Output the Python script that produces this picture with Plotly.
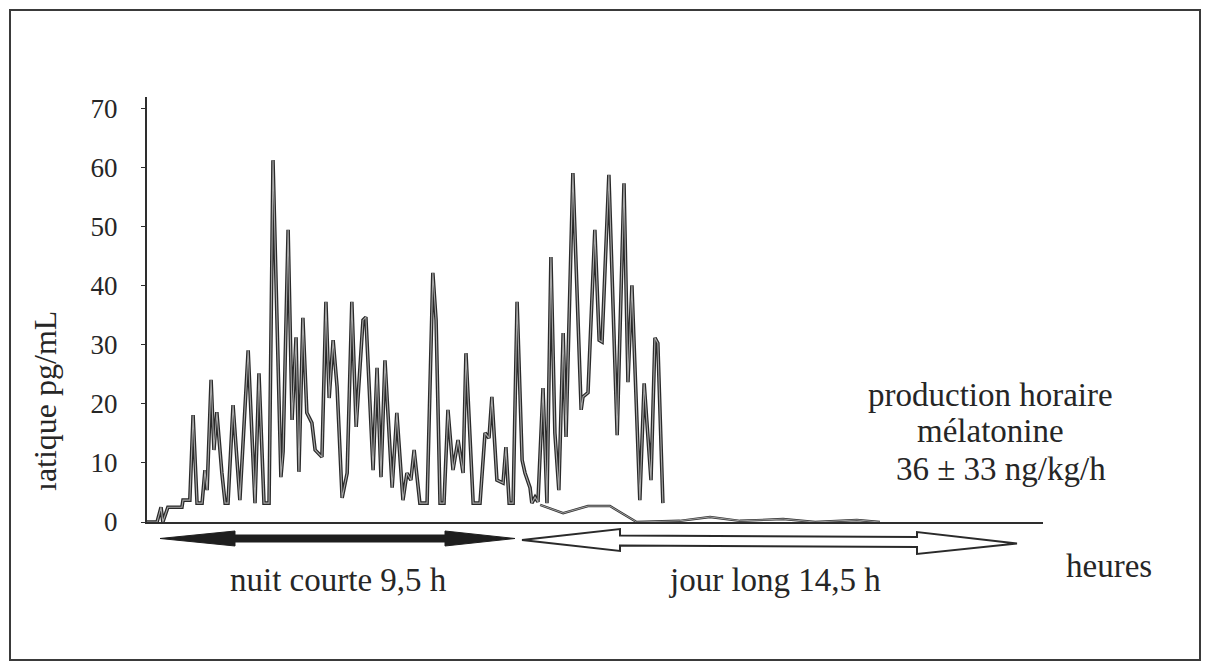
import plotly.graph_objects as go

# ---------------- data ----------------
# time in hours from the start of the recording
hours = [0.0, 0.28, 0.39, 0.44, 0.58, 0.97, 1.0, 1.19, 1.28, 1.39, 1.53, 1.61, 1.67,
         1.78, 1.86, 1.94, 2.08, 2.17, 2.25, 2.39, 2.58, 2.81, 3.0, 3.11, 3.25, 3.39,
         3.5, 3.61, 3.72, 3.78, 3.92, 4.03, 4.14, 4.22, 4.33, 4.44, 4.58, 4.67, 4.86,
         4.97, 5.06, 5.17, 5.28, 5.42, 5.56, 5.69, 5.81, 6.0, 6.08, 6.28, 6.39, 6.5,
         6.61, 6.81, 6.94, 7.11, 7.22, 7.33, 7.42, 7.58, 7.78, 7.94, 8.03, 8.14, 8.25,
         8.36, 8.5, 8.64, 8.78, 8.86, 8.97, 9.06, 9.25, 9.39, 9.5, 9.58, 9.72, 9.89,
         9.97, 10.06, 10.17, 10.28, 10.42, 10.5, 10.64, 10.69, 10.78, 10.86, 11.0,
         11.11, 11.22, 11.33, 11.44, 11.56, 11.64, 11.83, 12.06, 12.11, 12.25, 12.44,
         12.56, 12.64, 12.83, 13.06, 13.25, 13.36, 13.47, 13.69, 13.81, 14.0, 14.11,
         14.19, 14.33]
# plasma melatonin, pg/mL
conc = [0.0, 0.0, 2.5, 0.0, 2.5, 2.5, 3.7, 3.7, 18.1, 3.2, 3.2, 8.8, 5.4,
        24.1, 12.2, 18.6, 8.3, 3.2, 3.2, 19.8, 3.7, 29.1, 3.2, 25.2, 3.2, 3.2,
        61.3, 36.4, 7.6, 11.9, 49.5, 17.3, 31.3, 8.5, 34.6, 18.5, 16.8, 12.2, 11.0,
        37.3, 21.0, 30.8, 22.9, 4.1, 8.3, 37.3, 16.1, 34.2, 34.7, 8.8, 26.1, 7.6,
        27.4, 5.8, 18.5, 3.7, 8.3, 7.1, 12.2, 3.2, 3.2, 42.2, 34.2, 3.2, 3.2,
        19.0, 8.8, 13.9, 8.3, 28.6, 13.9, 3.2, 3.2, 15.1, 14.2, 21.2, 7.1, 6.6,
        12.7, 3.2, 3.2, 37.3, 10.5, 8.3, 5.8, 3.2, 4.2, 3.4, 22.7,
        3.2, 44.9, 15.1, 5.4, 32.0, 14.4, 59.1, 19.0, 21.2, 21.9, 49.5,
        30.8, 30.5, 58.8, 14.7, 57.4, 23.7, 40.1, 3.7, 23.5, 7.1, 31.2,
        30.3, 3.2]

# hourly production curve (drawn near the baseline)
prod_hours = [10.92, 11.56, 12.25, 12.86, 13.6, 14.8, 15.64, 16.47, 17.67, 18.56, 19.72, 20.36]
prod_vals = [2.9, 1.5, 2.7, 2.7, 0.0, 0.2, 0.85, 0.2, 0.5, 0.0, 0.35, 0.0]

ytick_vals = [0, 10, 20, 30, 40, 50, 60, 70]
ytick_text = ["0", "10", "20", "30", "40", "50", "60", "70"]

# ---------------- layout helpers ----------------
W, H = 1207, 662
PL, PR, PT, PB = 147, 1043, 97, 522  # plot area in pixels


def px(x, y):
    return (x - PL) / (PR - PL), (PB - y) / (PB - PT)


def path(points):
    s = ""
    for i, (x, y) in enumerate(points):
        X, Y = px(x, y)
        s += ("M" if i == 0 else "L") + f"{X:.5f},{Y:.5f} "
    return s + "Z"


FONT = "Liberation Serif"
TXT = "#262626"

fig = go.Figure()
fig.add_trace(go.Scatter(x=hours, y=conc, mode="lines",
                         line=dict(color="#2a2a2a", width=3.6), hoverinfo="skip", cliponaxis=False))
fig.add_trace(go.Scatter(x=hours, y=conc, mode="lines",
                         line=dict(color="#a8a8a8", width=1.1), hoverinfo="skip", cliponaxis=False))
fig.add_trace(go.Scatter(x=prod_hours, y=prod_vals, mode="lines",
                         line=dict(color="#333333", width=2.4), hoverinfo="skip", cliponaxis=False))
fig.add_trace(go.Scatter(x=prod_hours, y=prod_vals, mode="lines",
                         line=dict(color="#bdbdbd", width=0.8), hoverinfo="skip", cliponaxis=False))

shapes = []
# outer frame
x0, y0 = px(10, 660)
x1, y1 = px(1200, 10)
shapes.append(dict(type="rect", xref="paper", yref="paper", x0=x0, y0=y0, x1=x1, y1=y1,
                   line=dict(color="#3a3a3a", width=2), fillcolor="rgba(0,0,0,0)", layer="below"))
# black double arrow (short night)
shapes.append(dict(type="path", xref="paper", yref="paper",
                   path=path([(160, 538.5), (235, 531), (235, 535), (445, 535), (445, 531),
                              (515, 538.5), (445, 546), (445, 542), (235, 542), (235, 546)]),
                   fillcolor="#1e1e1e", line=dict(color="#1e1e1e", width=1)))
# white double arrow (long day)
shapes.append(dict(type="path", xref="paper", yref="paper",
                   path=path([(522, 540), (620, 529), (620, 535.5), (917, 537), (917, 532),
                              (1017, 543.5), (917, 554), (917, 547), (620, 545.5), (620, 551)]),
                   fillcolor="white", line=dict(color="#2a2a2a", width=2)))

annotations = []


def txt(text, x, y, size, **kw):
    X, Y = px(x, y)
    annotations.append(dict(text=text, x=X, y=Y, xref="paper", yref="paper", showarrow=False,
                            xanchor="center", yanchor="middle",
                            font=dict(family=FONT, size=size, color=TXT), **kw))


txt("production horaire", 990, 395, 33)
txt("mélatonine", 990, 431, 33)
txt("36 ± 33 ng/kg/h", 1001, 469, 33)
txt("nuit courte 9,5 h", 338, 580, 33)
txt("jour long 14,5 h", 775, 580, 33)
txt("heures", 1109, 566, 33)
txt("ıatique pg/mL", 45, 401, 32, textangle=-90)

fig.update_layout(
    width=W, height=H, autosize=False,
    margin=dict(l=PL, r=W - PR, t=PT, b=H - PB, pad=0),
    paper_bgcolor="white", plot_bgcolor="white",
    showlegend=False,
    shapes=shapes, annotations=annotations,
    xaxis=dict(range=[0, (PR - PL) / 36.0], showline=True, linecolor="#2e2e2e", linewidth=2,
               showticklabels=False, ticks="", showgrid=False, zeroline=False, fixedrange=True),
    yaxis=dict(range=[0, 72], showline=True, linecolor="#2e2e2e", linewidth=2,
               tickvals=ytick_vals, ticktext=ytick_text, ticks="outside", ticklen=4,
               tickcolor="#2e2e2e", ticklabelstandoff=18,
               tickfont=dict(family=FONT, size=27, color=TXT),
               showgrid=False, zeroline=False, fixedrange=True),
)

fig.write_html("out.html")
